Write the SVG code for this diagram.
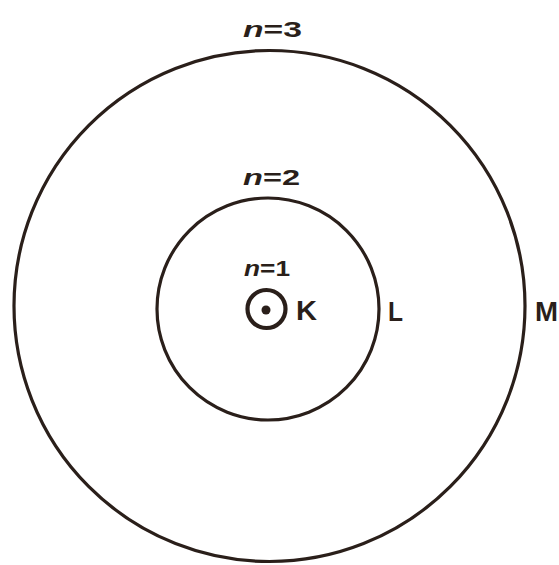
<svg xmlns="http://www.w3.org/2000/svg" width="559" height="565" viewBox="0 0 559 565">
<style>
.orbit{fill:none;stroke:#2a1f1a;}
.lbl{font-family:"Liberation Sans",Arial,sans-serif;fill:#2a1f1a;font-weight:bold;}
.n{font-size:22px;}
.shell{font-size:28px;}
</style>
<rect width="559" height="565" fill="#fff"/>
<g id="connectors"></g>
<g id="shell-M">
<circle class="orbit" cx="269.5" cy="306" r="255.5" stroke-width="3.2"/>
<text class="lbl n" x="243" y="37" textLength="59" lengthAdjust="spacingAndGlyphs"><tspan font-style="italic">n</tspan>=3</text>
<text class="lbl shell" x="535" y="321" textLength="23" lengthAdjust="spacingAndGlyphs">M</text>
</g>
<g id="shell-L">
<circle class="orbit" cx="268" cy="309" r="111" stroke-width="3.2"/>
<text class="lbl n" x="243" y="185" textLength="57" lengthAdjust="spacingAndGlyphs"><tspan font-style="italic">n</tspan>=2</text>
<text class="lbl shell" x="388" y="321" textLength="15" lengthAdjust="spacingAndGlyphs">L</text>
</g>
<g id="shell-K">
<circle class="orbit" cx="266.5" cy="309" r="19" stroke-width="4.2"/>
<text class="lbl n" x="244" y="276" textLength="46" lengthAdjust="spacingAndGlyphs"><tspan font-style="italic">n</tspan>=1</text>
<text class="lbl shell" x="296" y="320" textLength="21" lengthAdjust="spacingAndGlyphs">K</text>
</g>
<g id="nucleus">
<circle cx="266" cy="310" r="4.5" fill="#2a1f1a"/>
</g>
</svg>
